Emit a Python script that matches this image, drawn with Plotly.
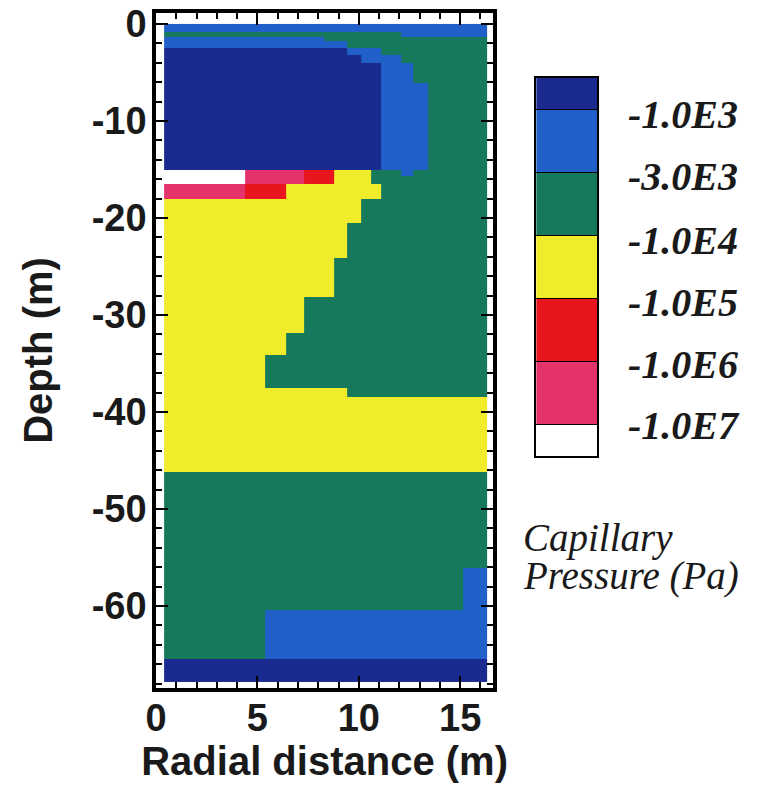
import plotly.graph_objects as go

# ---- data ----
legend_labels = ["-1.0E7", "-1.0E6", "-1.0E5", "-1.0E4", "-3.0E3", "-1.0E3"]
# category colours, code 0 (white, < -1.0E7) ... code 6 (navy, > -1.0E3)
category_colors = ["#ffffff", "#e4326a", "#e8141e", "#f0ec2c", "#17795c", "#2060c8", "#1b2a8e"]
category_codes = [0, 1, 2, 3, 4, 5, 6]

# radial cell edges (m)
x_edges = [0.4, 4.4, 5.4, 6.4, 7.3, 8.3, 8.8, 9.4, 10.1, 10.6, 11.1, 12.1, 12.7, 13.4, 15.15, 16.35]
# layer edges (m), top to bottom
y_edges = [0.0, -0.8, -1.3, -1.8, -2.5, -3.2, -4.0, -6.1, -15.0, -15.7, -16.5, -18.0,
           -20.5, -24.1, -28.1, -31.8, -34.1, -37.5, -38.5, -46.2, -56.1, -60.4, -65.5, -67.8]

# capillary pressure class per cell, rows top to bottom
pressure_class = [
    [5, 5, 5, 5, 5, 5, 5, 5, 5, 5, 5, 5, 5, 5, 5],
    [4, 4, 4, 4, 4, 4, 4, 4, 4, 4, 4, 5, 5, 5, 5],
    [5, 5, 5, 5, 5, 4, 4, 4, 4, 4, 4, 4, 4, 4, 4],
    [5, 5, 5, 5, 5, 5, 5, 4, 4, 4, 4, 4, 4, 4, 4],
    [6, 6, 6, 6, 6, 6, 6, 5, 5, 5, 4, 4, 4, 4, 4],
    [6, 6, 6, 6, 6, 6, 6, 6, 5, 5, 5, 4, 4, 4, 4],
    [6, 6, 6, 6, 6, 6, 6, 6, 6, 6, 5, 5, 4, 4, 4],
    [6, 6, 6, 6, 6, 6, 6, 6, 6, 6, 5, 5, 5, 4, 4],
    [0, 1, 1, 1, 2, 2, 3, 3, 3, 4, 4, 5, 4, 4, 4],
    [0, 1, 1, 1, 2, 2, 3, 3, 3, 4, 4, 4, 4, 4, 4],
    [1, 2, 2, 3, 3, 3, 3, 3, 3, 3, 4, 4, 4, 4, 4],
    [3, 3, 3, 3, 3, 3, 3, 3, 4, 4, 4, 4, 4, 4, 4],
    [3, 3, 3, 3, 3, 3, 3, 4, 4, 4, 4, 4, 4, 4, 4],
    [3, 3, 3, 3, 3, 3, 4, 4, 4, 4, 4, 4, 4, 4, 4],
    [3, 3, 3, 3, 4, 4, 4, 4, 4, 4, 4, 4, 4, 4, 4],
    [3, 3, 3, 4, 4, 4, 4, 4, 4, 4, 4, 4, 4, 4, 4],
    [3, 3, 4, 4, 4, 4, 4, 4, 4, 4, 4, 4, 4, 4, 4],
    [3, 3, 3, 3, 3, 3, 3, 4, 4, 4, 4, 4, 4, 4, 4],
    [3, 3, 3, 3, 3, 3, 3, 3, 3, 3, 3, 3, 3, 3, 3],
    [4, 4, 4, 4, 4, 4, 4, 4, 4, 4, 4, 4, 4, 4, 4],
    [4, 4, 4, 4, 4, 4, 4, 4, 4, 4, 4, 4, 4, 4, 5],
    [4, 4, 5, 5, 5, 5, 5, 5, 5, 5, 5, 5, 5, 5, 5],
    [6, 6, 6, 6, 6, 6, 6, 6, 6, 6, 6, 6, 6, 6, 6],
]

x_ticks = [0, 5, 10, 15]
x_ticktext = ["0", "5", "10", "15"]
y_ticks = [0, -10, -20, -30, -40, -50, -60]
y_ticktext = ["0", "-10", "-20", "-30", "-40", "-50", "-60"]

# ---- figure ----
n = len(category_colors)
colorscale = []
for k, c in enumerate(category_colors):
    lo = max(0.0, (k - 0.5) / (n - 1))
    hi = min(1.0, (k + 0.5) / (n - 1))
    colorscale += [[lo, c], [hi, c]]

# the page body adds an 8 px margin; lay out in window pixels and shift
OFF = 8
W, H = 765 - OFF, 796 - OFF
L, R, T, B = 155.5 - OFF, 0, 13 - OFF, 796 - 688
pw, ph = W - L - R, H - T - B

def px_x(px):  # window pixel -> paper x
    return (px - OFF - L) / pw

def px_y(py):  # window pixel -> paper y
    return (T + ph - (py - OFF)) / ph

fig = go.Figure()
fig.add_trace(go.Heatmap(
    x=x_edges, y=y_edges[::-1], z=pressure_class[::-1],
    zmin=0, zmax=n - 1, colorscale=colorscale, zsmooth=False,
    showscale=False, hoverinfo="skip", xaxis="x", yaxis="y",
))

# legend boxes: half boxes at both ends
leg_edges = [0] + [c + 0.5 for c in category_codes[:-1]] + [category_codes[-1]]
fig.add_trace(go.Heatmap(
    x=[0, 1], y=leg_edges, z=[[c] for c in category_codes],
    zmin=0, zmax=n - 1, colorscale=colorscale, zsmooth=False,
    showscale=False, hoverinfo="skip", xaxis="x2", yaxis="y2",
))

tickfont = dict(family="Liberation Sans, Arial", size=38, color="#1a1a1a", weight="bold")
fig.update_layout(
    width=W, height=H,
    margin=dict(l=L, r=R, t=T, b=B, pad=0, autoexpand=False),
    paper_bgcolor="white", plot_bgcolor="white",
    xaxis=dict(
        domain=[0, px_x(493)],
        range=[0, 16.63], showgrid=False, zeroline=False,
        tickmode="array", tickvals=x_ticks, ticktext=x_ticktext,
        ticks="inside", ticklen=12, tickwidth=2, tickcolor="black",
        minor=dict(dtick=1, tick0=0, ticks="inside", ticklen=6, tickwidth=1.5, tickcolor="black"),
        showline=True, linewidth=3.5, linecolor="black", mirror="allticks",
        tickfont=tickfont, ticklabelstandoff=-6, ticklabeloverflow="allow",
        title=dict(text="Radial distance (m)", font=tickfont | dict(size=40), standoff=6),
    ),
    yaxis=dict(
        domain=[0, 1],
        range=[-68.45, 1.13], showgrid=False, zeroline=False,
        tickmode="array", tickvals=y_ticks, ticktext=y_ticktext,
        ticks="inside", ticklen=12, tickwidth=2, tickcolor="black",
        minor=dict(dtick=2, tick0=0, ticks="inside", ticklen=6, tickwidth=1.5, tickcolor="black"),
        showline=True, linewidth=3.5, linecolor="black", mirror="allticks",
        tickfont=tickfont, ticklabelstandoff=-2, ticklabeloverflow="allow",
        title=dict(text="Depth (m)", font=tickfont | dict(size=40), standoff=28),
    ),
    xaxis2=dict(
        domain=[px_x(536), px_x(597)], anchor="y2", range=[0, 1],
        showgrid=False, zeroline=False, showticklabels=False, ticks="",
        showline=True, linewidth=1.5, linecolor="black", mirror=True,
    ),
    yaxis2=dict(
        domain=[px_y(456), px_y(78)], anchor="x2", range=[0, n - 1],
        showgrid=False, zeroline=False, showticklabels=False,
        tickmode="array", tickvals=leg_edges[1:-1],
        ticks="inside", ticklen=61, tickwidth=1.2, tickcolor="black",
        showline=True, linewidth=1.5, linecolor="black", mirror=True,
        layer="above traces",
    ),
)

label_py = [428, 367, 305, 243, 180, 118]
for txt, py in zip(legend_labels, label_py):
    fig.add_annotation(
        xref="paper", yref="paper",
        x=px_x(626), y=px_y(py - 3),
        xanchor="left", yanchor="middle", showarrow=False,
        text=txt,
        font=dict(family="Liberation Serif, Times New Roman", size=40, color="#1a1a1a",
                  weight="bold", style="italic"),
    )

for txt, py in [("Capillary", 541), ("Pressure (Pa)", 579)]:
    fig.add_annotation(
        xref="paper", yref="paper",
        x=px_x(521), y=px_y(py - 3),
        xanchor="left", yanchor="middle", showarrow=False,
        text=txt,
        font=dict(family="Liberation Serif, Times New Roman", size=39, color="#1a1a1a",
                  style="italic"),
    )

fig.write_html("out.html")
